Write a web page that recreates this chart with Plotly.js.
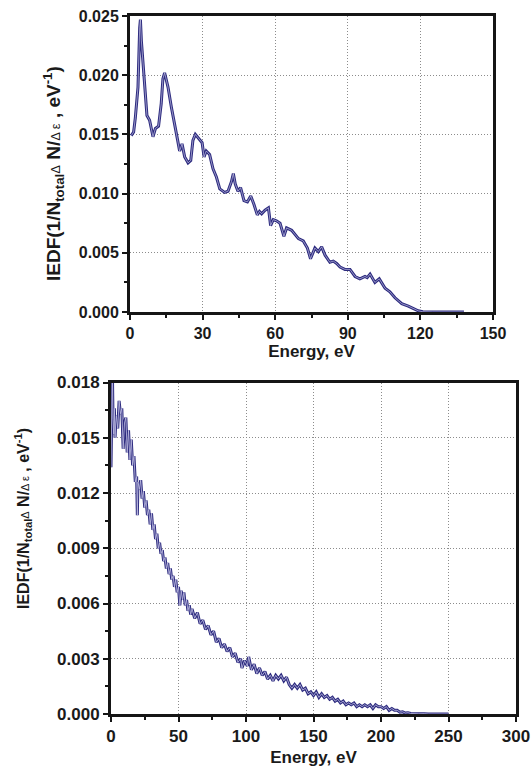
<!DOCTYPE html>
<html>
<head>
<meta charset="utf-8">
<script src="https://cdn.plot.ly/plotly-3.0.1.min.js"></script>
<style>html,body{margin:0;padding:0;background:#fff;}#chart{width:532px;height:767px;}</style>
</head>
<body>
<div id="chart"></div>
<script>
// Top panel: IEDF vs energy (0-150 eV)
var topEnergy = [0.5,1.5,2.2,3.3,4.0,4.3,4.7,5.4,6.1,7.0,8.1,9.5,10.5,11.8,12.9,13.6,14.3,15.7,17.1,18.5,19.6,20.5,21.5,22.6,24.0,25.1,26.0,27.0,28.4,29.8,30.6,31.5,32.9,34.3,35.7,37.1,39.1,40.5,41.9,42.7,43.5,44.6,45.7,47.1,48.5,49.9,51.2,52.6,53.5,54.4,55.8,57.2,58.1,59.2,60.5,62.0,63.6,64.7,66.8,68.0,69.6,71.6,73.3,74.6,76.4,77.8,79.2,80.6,82.6,84.0,85.4,86.8,88.8,90.9,93.0,95.0,97.1,98.0,99.2,101.2,103.0,105.4,107.4,109.5,112.3,115.0,117.1,119.1,121,125,138];
var topIEDF = [0.0149,0.0152,0.0164,0.0190,0.0240,0.0247,0.0229,0.0209,0.0184,0.0166,0.0162,0.0148,0.0155,0.0157,0.0176,0.0197,0.0202,0.0190,0.0173,0.0156,0.0146,0.0136,0.0142,0.0131,0.0126,0.0128,0.0145,0.0150,0.0146,0.0143,0.0131,0.0136,0.0133,0.0121,0.0114,0.0104,0.0101,0.0102,0.0110,0.0117,0.0108,0.0102,0.0105,0.0094,0.0093,0.0098,0.0091,0.0082,0.0085,0.0083,0.0086,0.0088,0.0073,0.0078,0.0077,0.0075,0.0064,0.0071,0.0069,0.0066,0.0062,0.0060,0.0054,0.0045,0.0054,0.0051,0.0055,0.0048,0.0042,0.0043,0.0041,0.0038,0.0036,0.0036,0.0030,0.0028,0.0030,0.0029,0.0032,0.0025,0.0028,0.0020,0.0017,0.0012,0.0007,0.0005,0.0003,0.0001,0.00002,0,0];

// Bottom panel: IEDF vs energy (0-300 eV)
var botEnergy = [0,0.5,1,1.5,2,2.5,3,3.5,4,5,6,7,8,9,10,11,12,13,14,15,16,17,18,19,19.5,20,21,22,23,24,25,26,27,28,29,30,31,32,33,34,35,36,37,38,39,40,41,42,43,44,45,46,47,48,49,50,51,52,53,54,55,56,57,58,59,60,62,64,66,68,70,72,74,76,78,80,82,84,86,88,90,92,94,96,97,99,101,102,104,106,108,110,112,114,116,118,120,122,124,126,128,130,132,134,136,138,140,142,144,146,148,150,152,154,156,158,160,162,164,166,168,170,172,174,176,178,180,182,184,186,188,190,192,194,196,198,200,202,204,206,208,210,212,214,216,218,220,222,225,228,232,235,250];
var botIEDF = [0.0134,0.0180,0.0188,0.0160,0.0152,0.0166,0.0150,0.0158,0.0162,0.0155,0.0170,0.0163,0.0166,0.0144,0.0158,0.0161,0.0142,0.0154,0.0138,0.0149,0.0135,0.0140,0.0126,0.0129,0.0108,0.0126,0.0122,0.0127,0.0117,0.0121,0.0112,0.0116,0.0108,0.0111,0.0103,0.0109,0.0100,0.0103,0.0095,0.0098,0.0090,0.0093,0.0087,0.0089,0.0083,0.0085,0.0079,0.0082,0.0076,0.0079,0.0073,0.0075,0.0069,0.0073,0.0066,0.0069,0.0059,0.0067,0.0062,0.0066,0.0059,0.0062,0.0056,0.0059,0.0054,0.0057,0.0052,0.0055,0.0049,0.0051,0.0046,0.0048,0.0043,0.0045,0.0039,0.0041,0.0036,0.0038,0.0034,0.0036,0.0031,0.0033,0.0028,0.0030,0.0025,0.0029,0.0026,0.0031,0.0024,0.0027,0.0022,0.0025,0.0021,0.0023,0.0019,0.0021,0.0018,0.0021,0.0019,0.0021,0.0018,0.0020,0.0016,0.0014,0.0016,0.0014,0.0016,0.0013,0.0014,0.0011,0.0012,0.0010,0.0012,0.0009,0.0011,0.0009,0.0010,0.0008,0.0009,0.0007,0.0008,0.0006,0.0007,0.0005,0.0006,0.0005,0.0006,0.0004,0.0005,0.0004,0.0005,0.0004,0.0005,0.0003,0.0005,0.0004,0.0004,0.0003,0.0004,0.0002,0.0003,0.0002,0.0002,0.0001,0.00012,0.00005,0.00007,0.00003,0.00004,0.00001,0.00002,0,0];

var navy = '#2d2b7f';
var light = 'rgba(200,198,232,0.85)';
var FONT = 'Liberation Sans, Arial, Helvetica, sans-serif';
var INK = '#1a1a1a';
var W = 532, H = 767;

var traces = [
  {x: topEnergy, y: topIEDF, xaxis: 'x', yaxis: 'y', mode: 'lines', line: {color: navy, width: 3}, hoverinfo: 'x+y'},
  {x: topEnergy, y: topIEDF, xaxis: 'x', yaxis: 'y', mode: 'lines', line: {color: light, width: 0.8}, hoverinfo: 'skip'},
  {x: botEnergy, y: botIEDF, xaxis: 'x2', yaxis: 'y2', mode: 'lines', line: {color: navy, width: 3}, hoverinfo: 'x+y'},
  {x: botEnergy, y: botIEDF, xaxis: 'x2', yaxis: 'y2', mode: 'lines', line: {color: light, width: 0.9}, hoverinfo: 'skip'}
];

function yTitle(sm) {
  return 'IEDF(1/N<sub>total</sub><span style="font-weight:normal;font-size:' + sm + 'px">Δ</span> N/<span style="font-weight:normal;font-size:' + sm + 'px">Δ ε</span> , eV<sup>-1</sup>)';
}

function xAx(domain, anchor, range, dtick, fs, standoff) {
  return {
    domain: domain, anchor: anchor, range: range, dtick: dtick, tick0: 0,
    showline: true, linecolor: '#151515', linewidth: 3, mirror: true,
    ticks: 'outside', ticklen: 5, tickwidth: 2, tickcolor: '#151515',
    minor: {dtick: dtick / 2, ticks: 'outside', ticklen: 3, tickwidth: 2, tickcolor: '#151515', showgrid: false},
    showgrid: true, gridcolor: '#8c8c8c', griddash: '1px,2px', gridwidth: 1,
    zeroline: false,
    tickfont: {family: FONT, size: fs, color: INK, weight: 'bold'},
    title: {text: 'Energy, eV', font: {family: FONT, size: 17, color: INK, weight: 'bold'}, standoff: standoff}
  };
}
function yAx(domain, anchor, range, dtick, fs) {
  return {
    domain: domain, anchor: anchor, range: range, dtick: dtick, tick0: 0, tickformat: '.3f',
    showline: true, linecolor: '#151515', linewidth: 3, mirror: true,
    ticks: 'outside', ticklen: 5, tickwidth: 2, tickcolor: '#151515',
    minor: {dtick: dtick / 2, ticks: 'outside', ticklen: 3, tickwidth: 2, tickcolor: '#151515', showgrid: false},
    showgrid: true, gridcolor: '#8c8c8c', griddash: '1px,2px', gridwidth: 1,
    zeroline: false,
    tickfont: {family: FONT, size: fs, color: INK, weight: 'bold'}
  };
}

var layout = {
  width: W, height: H,
  margin: {l: 0, r: 0, t: 0, b: 0},
  paper_bgcolor: '#fff', plot_bgcolor: '#fff',
  showlegend: false,
  xaxis: xAx([130/W, 493/W], 'y', [0, 150], 30, 16, 1),
  yaxis: yAx([1 - 312/H, 1 - 16/H], 'x', [0, 0.025], 0.005, 16),
  xaxis2: xAx([111/W, 516/W], 'y2', [0, 300], 50, 17, 9),
  yaxis2: yAx([1 - 714/H, 1 - 382.5/H], 'x2', [0, 0.018], 0.003, 17),
  annotations: [
    {text: yTitle(13), xref: 'paper', yref: 'paper', x: 53/W, y: 1 - 174/H, xanchor: 'center', yanchor: 'middle',
     textangle: -90, showarrow: false, font: {family: FONT, size: 19, color: INK, weight: 'bold'}},
    {text: yTitle(11), xref: 'paper', yref: 'paper', x: 23/W, y: 1 - 519/H, xanchor: 'center', yanchor: 'middle',
     textangle: -90, showarrow: false, font: {family: FONT, size: 16, color: INK, weight: 'bold'}}
  ]
};

Plotly.newPlot('chart', traces, layout, {staticPlot: true, displayModeBar: false});
</script>
</body>
</html>
